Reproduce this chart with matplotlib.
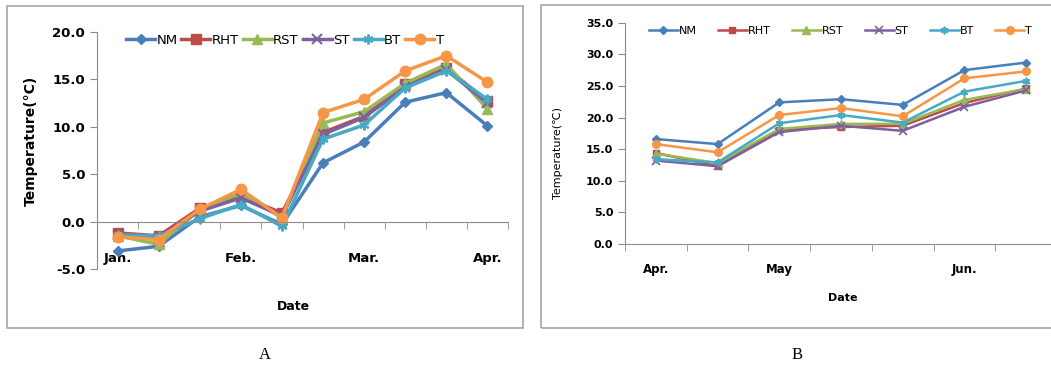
import matplotlib.pyplot as plt
from matplotlib.patches import Rectangle

# panel A: Jan - Apr
dates_a = list(range(10))
ticks_a = ["Jan.", "Feb.", "Mar.", "Apr."]
tickpos_a = [0, 3, 6, 9]
nm_a = [-3.1, -2.6, 0.5, 1.7, -0.3, 6.2, 8.4, 12.6, 13.6, 10.1]
rht_a = [-1.2, -1.5, 1.4, 2.7, 0.9, 9.4, 11.1, 14.5, 16.2, 12.7]
rst_a = [-1.5, -2.4, 1.3, 3.0, 0.4, 10.4, 11.6, 14.6, 16.6, 11.9]
st_a = [-1.4, -1.7, 1.1, 2.5, 0.6, 9.2, 11.0, 14.2, 16.0, 12.5]
bt_a = [-1.4, -1.5, 0.3, 1.8, -0.5, 8.7, 10.2, 14.1, 15.9, 12.9]
t_a = [-1.6, -1.9, 1.3, 3.4, 0.4, 11.5, 12.9, 15.9, 17.5, 14.7]

# panel B: Apr - Jun
dates_b = list(range(7))
ticks_b = ["Apr.", "May", "Jun."]
tickpos_b = [0, 2, 5]
nm_b = [16.6, 15.8, 22.4, 22.9, 22.0, 27.5, 28.7]
rht_b = [14.4, 12.3, 18.1, 18.5, 18.7, 22.3, 24.6]
rst_b = [14.3, 12.8, 18.2, 19.0, 19.0, 22.8, 24.5]
st_b = [13.2, 12.3, 17.7, 18.7, 17.9, 21.7, 24.3]
bt_b = [13.4, 12.9, 19.1, 20.4, 19.2, 24.1, 25.8]
t_b = [15.8, 14.5, 20.4, 21.5, 20.2, 26.2, 27.3]

names = ["NM", "RHT", "RST", "ST", "BT", "T"]
colors = ["#4A7EBB", "#BE4B48", "#98B954", "#7D60A0", "#46AAC5", "#F79646"]
markers = ["D", "s", "^", "x", (6, 2, 0), "o"]
ms_a = [5.5, 6.5, 7, 7, 7, 7.5]
ms_b = [4.5, 5, 5.5, 5.5, 5.5, 5.5]

W, H = 1051, 372
fig = plt.figure(figsize=(W / 100, H / 100), dpi=100)

# panel frames
fig.add_artist(Rectangle((7 / W, 1 - 328 / H), 516 / W, 322 / H, transform=fig.transFigure,
                         fill=False, edgecolor="#A6A6A6", lw=1.2))
fig.add_artist(Rectangle((541 / W, 1 - 328 / H), 520 / W, 323 / H, transform=fig.transFigure,
                         fill=False, edgecolor="#A6A6A6", lw=1.2))


def style_axis(ax, nx, tickpos, ticklabels, pad, fs):
    for s in ["top", "right"]:
        ax.spines[s].set_visible(False)
    ax.spines["left"].set_color("#8C8C8C")
    ax.spines["bottom"].set_color("#8C8C8C")
    ax.spines["bottom"].set_position(("data", 0))
    ax.set_xlim(-0.5, nx - 0.5)
    ax.set_xticks(tickpos)
    ax.set_xticklabels(ticklabels, fontsize=fs, fontweight="bold")
    ax.set_xticks([i - 0.5 for i in range(nx + 1)], minor=True)
    ax.tick_params(axis="x", which="major", length=0, pad=pad)
    ax.tick_params(axis="x", which="minor", length=5, direction="out", color="#8C8C8C")
    ax.tick_params(axis="y", length=5, direction="out", color="#8C8C8C")


# ---- A ----
axA = fig.add_axes([97 / W, 1 - 269 / H, 411 / W, 237 / H])
series_a = [nm_a, rht_a, rst_a, st_a, bt_a, t_a]
for vals, name, c, m, ms in zip(series_a, names, colors, markers, ms_a):
    mew = 1.5 if m in ("x", (6, 2, 0)) else 1
    axA.plot(dates_a, vals, color=c, lw=2.5, marker=m, ms=ms, mew=mew, label=name)
axA.set_ylim(-5, 20)
axA.set_yticks([-5, 0, 5, 10, 15, 20])
axA.set_yticklabels(["%.1f" % v for v in [-5, 0, 5, 10, 15, 20]], fontsize=9.5, fontweight="bold")
style_axis(axA, 10, tickpos_a, ticks_a, 22, 9.5)
axA.set_ylabel("Temperature(°C)", fontsize=10, fontweight="bold")
axA.yaxis.set_label_coords(-0.145, 0.54)
fig.text(293 / W, 1 - 307 / H, "Date", ha="center", va="center", fontsize=9, fontweight="bold")
axA.legend(loc="center", bbox_to_anchor=(0.457, 0.966), ncol=6, frameon=False, fontsize=9.5,
           handlelength=2.2, handletextpad=0.1, columnspacing=0.3, borderaxespad=0)

# ---- B ----
axB = fig.add_axes([625 / W, 1 - 244 / H, 432 / W, 221.3 / H])
series_b = [nm_b, rht_b, rst_b, st_b, bt_b, t_b]
for vals, name, c, m, ms in zip(series_b, names, colors, markers, ms_b):
    mew = 1.2 if m in ("x", (6, 2, 0)) else 1
    axB.plot(dates_b, vals, color=c, lw=1.8, marker=m, ms=ms, mew=mew, label=name)
axB.set_ylim(0, 35)
axB.set_yticks([0, 5, 10, 15, 20, 25, 30, 35])
axB.set_yticklabels(["%.1f" % v for v in [0, 5, 10, 15, 20, 25, 30, 35]], fontsize=8, fontweight="bold")
style_axis(axB, 7, tickpos_b, ticks_b, 14, 8.5)
axB.set_ylabel("Temperature(℃)", fontsize=8)
axB.yaxis.set_label_coords(-0.143, 0.41)
fig.text(843 / W, 1 - 298 / H, "Date", ha="center", va="center", fontsize=8, fontweight="bold")
axB.legend(loc="center left", bbox_to_anchor=(0.045, 0.962), ncol=6, frameon=False, fontsize=8,
           handlelength=2.6, handletextpad=0.1, columnspacing=1.9, borderaxespad=0)

fig.text(265 / W, 1 - 355 / H, "A", ha="center", va="center", fontsize=12, family="Liberation Serif")
fig.text(797 / W, 1 - 355 / H, "B", ha="center", va="center", fontsize=12, family="Liberation Serif")

fig.savefig("out.png", dpi=100)
